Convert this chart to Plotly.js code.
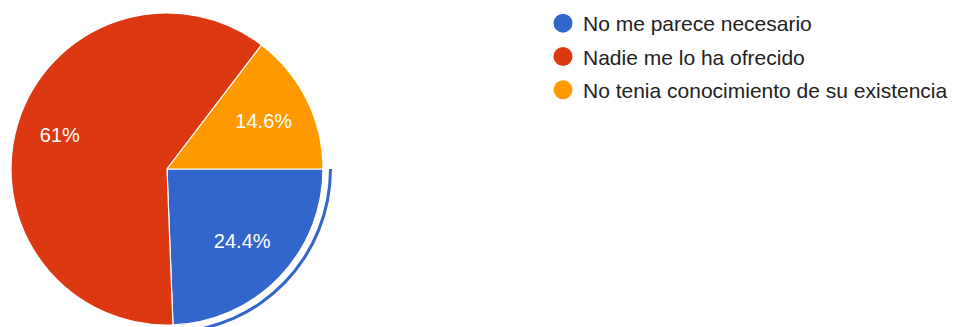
<!DOCTYPE html>
<html>
<head>
<meta charset="utf-8">
<script src="https://cdn.plot.ly/plotly-3.0.1.min.js"></script>
<style>
html,body{margin:0;padding:0;overflow:hidden;background:#fff;}
#chart{width:955px;height:340px;}
</style>
</head>
<body>
<div id="chart"></div>
<script>
// Data
const categories = ["No me parece necesario", "Nadie me lo ha ofrecido", "No tenia conocimiento de su existencia"];
const responses = [10, 25, 6];
const colors = ["#3366cc", "#dc3912", "#ff9900"];

const W = 955, H = 340;
const cx = 167, cy = 169, r = 156, ringIn = 162, ringOut = 165;
const FONT = "Liberation Sans, Arial, sans-serif";
const clear = "rgba(0,0,0,0)";

const pieDomain = {x: [(cx - r) / W, (cx + r) / W], y: [1 - (cy + r) / H, 1 - (cy - r) / H]};
const common = {
  type: "pie",
  labels: categories,
  values: responses,
  sort: false,
  direction: "clockwise",
  rotation: 90,
  showlegend: false
};

const pie = Object.assign({}, common, {
  marker: {colors: colors, line: {color: "#ffffff", width: 1.2}},
  textinfo: "none",
  hoverinfo: "label+percent",
  domain: pieDomain
});

// label layers (transparent slices) so the percentages sit at the reference radius
function labelLayer(hole, show) {
  return Object.assign({}, common, {
    hole: hole,
    marker: {colors: [clear, clear, clear], line: {width: 0}},
    texttemplate: show.map(s => s ? "%{percent}" : ""),
    textposition: "inside",
    insidetextorientation: "horizontal",
    textfont: {family: FONT, size: 20, color: "#ffffff"},
    hoverinfo: "skip",
    domain: pieDomain
  });
}
const labelsRed = labelLayer(0.44, [false, true, false]);
const labelsOther = labelLayer(0.34, [true, false, true]);

const ring = Object.assign({}, common, {
  hole: ringIn / ringOut,
  marker: {colors: [colors[0], clear, clear], line: {width: 0}},
  textinfo: "none",
  hoverinfo: "skip",
  domain: {x: [(cx - ringOut) / W, (cx + ringOut) / W], y: [1 - (cy + ringOut) / H, 1 - (cy - ringOut) / H]}
});

const legendTraces = categories.map((c, i) => ({
  type: "scatter",
  mode: "markers",
  x: [null], y: [null],
  name: c,
  legendgroup: "g" + i,
  marker: {color: colors[i], size: 16, symbol: "circle", line: {color: colors[i], width: 3}},
  showlegend: true,
  hoverinfo: "skip"
}));

const layout = {
  width: W,
  height: H,
  margin: {l: 0, r: 0, t: 0, b: 0},
  paper_bgcolor: "#ffffff",
  plot_bgcolor: clear,
  xaxis: {visible: false, domain: [0.6, 0.61]},
  yaxis: {visible: false, domain: [0.0, 0.01]},
  showlegend: true,
  legend: {
    x: 543 / W, xanchor: "left",
    y: 1 - 3 / H, yanchor: "top",
    traceorder: "grouped",
    tracegroupgap: 3,
    bgcolor: clear,
    font: {family: FONT, size: 21, color: "#222222"}
  },
  font: {family: FONT}
};

Plotly.newPlot("chart", [ring, pie, labelsRed, labelsOther].concat(legendTraces), layout, {displayModeBar: false, staticPlot: true});
</script>
</body>
</html>
